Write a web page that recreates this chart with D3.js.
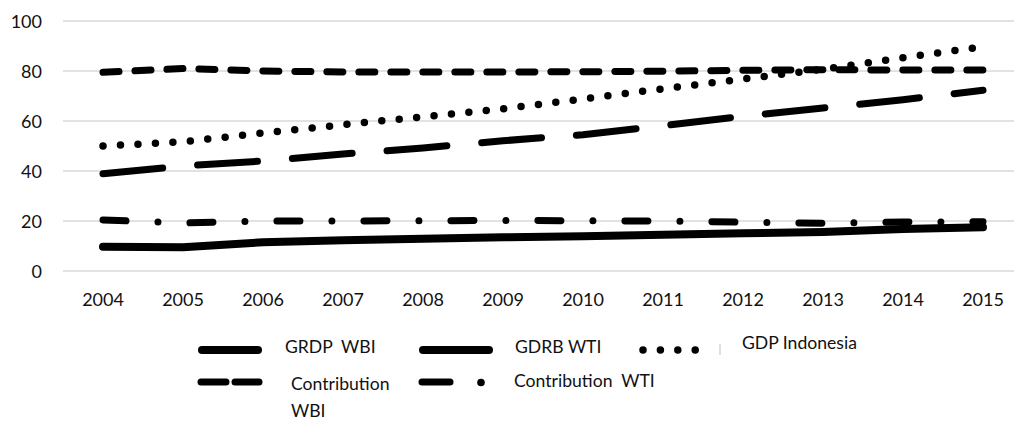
<!DOCTYPE html>
<html>
<head>
<meta charset="utf-8">
<script src="https://cdn.jsdelivr.net/npm/d3@7/dist/d3.min.js"></script>
<style>
  html, body { margin: 0; padding: 0; background: #fff; }
  svg { display: block; }
  text { font-family: Lato, "Open Sans", sans-serif; fill: #111; white-space: pre; }
</style>
</head>
<body>
<svg id="chart" width="1014" height="423"></svg>
<script>
// ---- data ----
const years = ["2004","2005","2006","2007","2008","2009","2010","2011","2012","2013","2014","2015"];
const grdpWbi      = [9.7, 9.5, 11.5, 12.3, 12.9, 13.5, 13.9, 14.5, 15.1, 15.6, 16.8, 17.5];
const gdrbWti      = [38.9, 42.0, 44.0, 46.8, 49.2, 52.1, 54.5, 58.1, 61.9, 65.2, 68.5, 72.3];
const gdpIndonesia = [50.0, 51.7, 55.2, 58.5, 61.7, 64.9, 68.8, 72.9, 76.8, 80.7, 85.3, 89.7];
const contribWbi   = [79.5, 81.0, 80.0, 79.6, 79.6, 79.6, 79.7, 79.9, 80.3, 80.5, 80.4, 80.4];
const contribWti   = [20.4, 19.2, 20.0, 20.0, 20.1, 20.2, 20.1, 20.0, 19.5, 19.1, 19.6, 19.7];
const yTicks = [0, 20, 40, 60, 80, 100];
const legendNames = ["GRDP  WBI", "GDRB WTI", "GDP Indonesia", "Contribution", "Contribution  WTI"];

// ---- layout ----
const svg = d3.select("#chart");
const plotLeft = 63, plotRight = 1023, plotTop = 21, plotBottom = 271;

const x = d3.scaleBand().domain(years).range([plotLeft, plotRight]);
const y = d3.scaleLinear().domain([0, 100]).range([plotBottom, plotTop]);
const cx = d => x(d) + x.bandwidth() / 2;

// gridlines
svg.append("g").selectAll("line").data(yTicks).join("line")
  .attr("x1", plotLeft).attr("x2", plotRight)
  .attr("y1", d => y(d)).attr("y2", d => y(d))
  .attr("stroke", "#d9d9d9").attr("stroke-width", 1.5);

// y axis labels
const yAxis = d3.axisLeft(y).tickValues(yTicks).tickSize(0).tickPadding(0);
const gy = svg.append("g").attr("transform", "translate(42,0)").call(yAxis);
gy.select(".domain").remove();
gy.selectAll("text").attr("font-size", 18).style("font-family", "Lato, sans-serif").attr("fill", "#111").attr("dy", "0.35em");

// x axis labels
const xAxis = d3.axisBottom(x).tickSize(0).tickPadding(0);
const gx = svg.append("g").attr("transform", "translate(0,293)").call(xAxis);
gx.select(".domain").remove();
gx.selectAll("text").attr("font-size", 18).style("font-family", "Lato, sans-serif").attr("fill", "#111").attr("dy", "0.72em");

// series
const series = [
  { vals: gdrbWti,      dash: "60,35",       width: 7 },
  { vals: contribWti,   dash: "23,32,0,32",  width: 7 },
  { vals: grdpWbi,      dash: null,          width: 8 },
  { vals: contribWbi,   dash: "16,16",       width: 7 },
  { vals: gdpIndonesia, dash: "0,17.5",      width: 7.5 }
];
const line = d3.line().x((d, i) => cx(years[i])).y(d => y(d));
svg.append("g").selectAll("path").data(series).join("path")
  .attr("d", s => line(s.vals))
  .attr("fill", "none")
  .attr("stroke", "#000")
  .attr("stroke-width", s => s.width)
  .attr("stroke-linecap", "round")
  .attr("stroke-linejoin", "round")
  .attr("stroke-dasharray", s => s.dash);

// legend
const lg = svg.append("g");
function swatch(x1, x2, yy, dash, w) {
  lg.append("line").attr("x1", x1).attr("x2", x2).attr("y1", yy).attr("y2", yy)
    .attr("stroke", "#000").attr("stroke-width", w).attr("stroke-linecap", "round")
    .attr("stroke-dasharray", dash);
}
function label(t, xx, yy) {
  lg.append("text").attr("x", xx).attr("y", yy).attr("font-size", 17.6).text(t);
}
// row 1
swatch(202, 258, 350, null, 8);
label(legendNames[0], 285, 353);
swatch(423, 489, 350, null, 8);
label(legendNames[1], 515, 353);
swatch(643, 710, 350, "0,17.4", 7.5);
lg.append("line").attr("x1", 720).attr("x2", 720).attr("y1", 344).attr("y2", 355)
  .attr("stroke", "#bfbfbf").attr("stroke-width", 1);
label(legendNames[2], 742, 349);
// row 2
swatch(201, 259, 382, "25,9", 7);
label(legendNames[3], 291, 390);
label("WBI", 291, 417);
swatch(422, 450, 382, null, 7);
lg.append("circle").attr("cx", 481).attr("cy", 382.5).attr("r", 3.8).attr("fill", "#000");
label(legendNames[4], 514, 386.5);
</script>
</body>
</html>
